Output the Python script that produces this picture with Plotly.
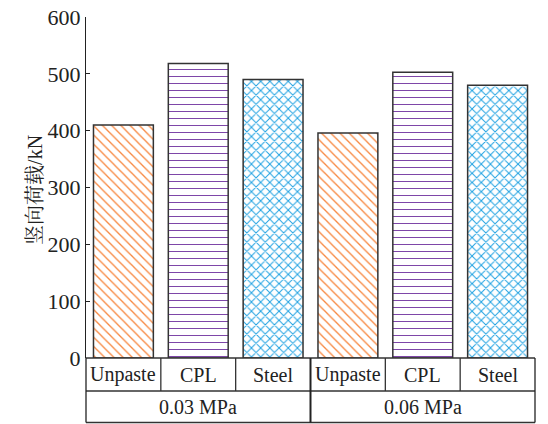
import plotly.graph_objects as go

# ---- data ----
groups = ["0.03 MPa", "0.06 MPa"]
types = ["Unpaste", "CPL", "Steel"]
values_003 = [410, 518, 490]
values_006 = [396, 503, 480]
y_ticks = [0, 100, 200, 300, 400, 500, 600]
y_title = "竖向荷载/kN"

# ---- styles ----
styles = {
    "Unpaste": dict(shape="\\", fg="#F7863E", size=6.5, solidity=0.2),
    "CPL": dict(shape="-", fg="#7E46A8", size=7, solidity=0.15),
    "Steel": dict(shape="x", fg="#1FA2E2", size=6.5, solidity=0.28),
}
FONT = "Liberation Serif, Noto Serif CJK SC, Noto Sans CJK SC, serif"
LINE = "#333333"

W, H = 548, 424
ML, MR, MT, MB = 86, 13, 17, 66

n_types = len(types)
n_cat = n_types * len(groups)
x_min, x_max = -0.5, n_cat - 0.5

fig = go.Figure()
vals_by_group = [values_003, values_006]
for ti, t in enumerate(types):
    xs = [gi * n_types + ti for gi in range(len(groups))]
    ys = [vals_by_group[gi][ti] for gi in range(len(groups))]
    st = styles[t]
    fig.add_trace(go.Bar(
        x=xs, y=ys, width=0.8, name=t,
        marker=dict(
            color="white",
            line=dict(color=LINE, width=1.5),
            pattern=dict(shape=st["shape"], fgcolor=st["fg"], bgcolor="white",
                         size=st["size"], solidity=st["solidity"], fillmode="replace"),
        ),
        showlegend=False,
    ))

plot_h = H - MT - MB
plot_w = W - ML - MR
row1_bot = -33 / plot_h
row2_bot = -64.5 / plot_h


def px(p):
    return (p - x_min) / (x_max - x_min)


shapes = []
for yy in [0, row1_bot, row2_bot]:
    shapes.append(dict(type="line", xref="paper", yref="paper", x0=0, x1=1, y0=yy, y1=yy,
                       line=dict(color=LINE, width=1.3)))
for k in range(n_cat + 1):
    b = x_min + k
    is_group = (k % n_types == 0)
    shapes.append(dict(type="line", xref="paper", yref="paper", x0=px(b), x1=px(b),
                       y0=0, y1=row2_bot if is_group else row1_bot,
                       line=dict(color=LINE if not is_group else "#222222",
                                 width=1.3 if (k in (0, n_cat) or not is_group) else 2)))

annotations = []
for gi, g in enumerate(groups):
    for ti, t in enumerate(types):
        annotations.append(dict(x=gi * n_types + ti, xref="x", y=row1_bot / 2, yref="paper",
                                text=t, showarrow=False, xanchor="center", yanchor="middle",
                                font=dict(family=FONT, size=20, color="#222")))
    annotations.append(dict(x=gi * n_types + (n_types - 1) / 2, xref="x",
                            y=(row1_bot + row2_bot) / 2, yref="paper",
                            text=g, showarrow=False, xanchor="center", yanchor="middle",
                            font=dict(family=FONT, size=20, color="#222")))
annotations.append(dict(x=(35 - ML) / plot_w, xref="paper", y=0.493, yref="paper",
                        text=y_title, textangle=-90, showarrow=False,
                        xanchor="center", yanchor="middle",
                        font=dict(family=FONT, size=20, color="#222")))

fig.update_layout(
    width=W, height=H,
    margin=dict(l=ML, r=MR, t=MT, b=MB),
    paper_bgcolor="white", plot_bgcolor="white",
    barmode="overlay",
    shapes=shapes,
    annotations=annotations,
    font=dict(family=FONT, color="#222"),
)
fig.update_xaxes(range=[x_min, x_max], showticklabels=False, ticks="", showgrid=False,
                 zeroline=False, showline=False, automargin=False)
fig.update_yaxes(range=[0, 600], tickvals=y_ticks, ticks="inside", ticklen=4, tickwidth=1.3,
                 tickcolor="#222", showline=True, linecolor="#222", linewidth=1.3,
                 showgrid=False, zeroline=False, automargin=False, ticklabeloverflow="allow",
                 tickfont=dict(family=FONT, size=22, color="#222"))

fig.write_html("out.html", config={"displayModeBar": False},
               post_script="document.body.style.margin='0';")
